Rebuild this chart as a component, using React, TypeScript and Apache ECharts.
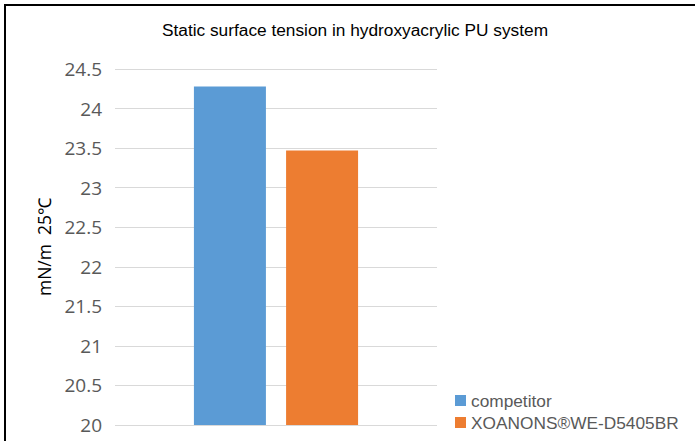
import React, { useEffect, useRef } from "react";
import * as echarts from "echarts";

const categories = ["hydroxyacrylic PU"];
const seriesNames = ["competitor", "XOANONS®WE-D5405BR"];
const competitorValues = [24.28];
const xoanonsValues = [23.47];
const colors = ["#5B9BD5", "#ED7D31"];

export default function App() {
  const ref = useRef<HTMLDivElement>(null);
  useEffect(() => {
    document.body.style.margin = "0";
    const chart = echarts.init(ref.current!, null, { renderer: "svg" });
    chart.setOption({
      animation: false,
      backgroundColor: "#ffffff",
      title: {
        text: "Static surface tension in hydroxyacrylic PU system",
        left: 350,
        top: 16,
        textAlign: "center",
        textStyle: { fontFamily: "Liberation Sans", fontSize: 17.3, fontWeight: "normal", color: "#000000" },
      },
      graphic: [
        { type: "line", shape: { x1: 4, y1: 5, x2: 695, y2: 5 }, style: { stroke: "#000", lineWidth: 2 } },
        { type: "line", shape: { x1: 5, y1: 4, x2: 5, y2: 441 }, style: { stroke: "#000", lineWidth: 2 } },
      ],
      legend: {
        orient: "vertical",
        left: 450,
        top: 387,
        itemWidth: 11,
        itemHeight: 11,
        itemGap: 5,
        icon: "rect",
        textStyle: { fontFamily: "Liberation Sans", fontSize: 17.3, color: "#595959" },
        data: seriesNames,
      },
      grid: { left: 115, right: 258, top: 69, bottom: 16, containLabel: false },
      xAxis: {
        type: "category",
        data: categories,
        axisLine: { show: false },
        axisTick: { show: false },
        axisLabel: { show: false },
      },
      yAxis: {
        type: "value",
        min: 20,
        max: 24.5,
        interval: 0.5,
        name: "mN/m  25℃",
        nameLocation: "middle",
        nameGap: 62,
        nameTextStyle: { fontFamily: "Open Sans", fontSize: 17.5, color: "#000000" },
        axisLine: { show: false },
        axisTick: { show: false },
        axisLabel: { fontFamily: "Open Sans", fontSize: 19, color: "#595959", margin: 13 },
        splitLine: { lineStyle: { color: "#D9D9D9", width: 1 } },
      },
      series: [
        {
          name: seriesNames[0],
          type: "bar",
          data: competitorValues,
          barWidth: 72,
          barGap: "28%",
          itemStyle: { color: colors[0] },
        },
        {
          name: seriesNames[1],
          type: "bar",
          data: xoanonsValues,
          barWidth: 72,
          barGap: "28%",
          itemStyle: { color: colors[1] },
        },
      ],
    });
    return () => chart.dispose();
  }, []);
  return <div ref={ref} style={{ position: "fixed", left: 0, top: 0, width: 695, height: 441 }} />;
}
